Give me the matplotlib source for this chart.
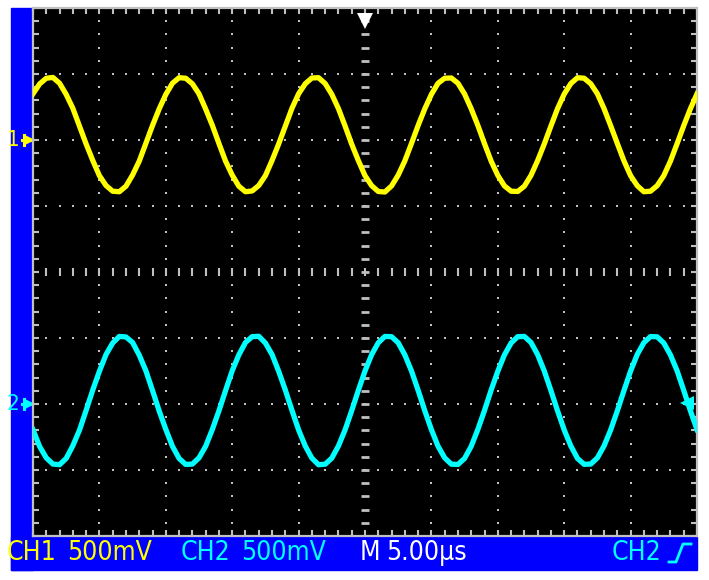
import numpy as np
import matplotlib
matplotlib.use("Agg")
import matplotlib.pyplot as plt
import matplotlib.transforms as mtransforms
from matplotlib.patches import Rectangle
from matplotlib.lines import Line2D

# sample times in microseconds, 0.5 us apart across the 10 divisions (5 us/div)
t_us = np.arange(0, 50.01, 0.5)

# CH1 (yellow), millivolts
ch1_mv = [350, 425, 468, 474, 430, 345, 240, 105, -30, -155, -270, -345, -388, -392, -350, -265, -160, -25, 110, 235,
          345, 430, 472, 468, 426, 350, 235, 112, -26, -160, -266, -350, -392, -386, -345, -270, -155, -30, 105, 240,
          350, 426, 470, 472, 428, 346, 238, 106, -32, -156, -270, -346, -390, -394, -348, -266, -158, -26, 110, 236,
          346, 430, 468, 470, 430, 348, 236, 110, -28, -160, -268, -348, -388, -390, -350, -268, -156, -30, 106, 238,
          348, 428, 472, 468, 426, 350, 238, 108, -26, -158, -270, -346, -392, -388, -346, -270, -160, -28, 108, 236,
          350]

# CH2 (cyan), millivolts
ch2_mv = [-195, -322, -408, -455, -460, -412, -316, -198, -48, 106, 248, 375, 462, 512, 508, 466, 370, 252, 102, -52,
          -192, -320, -412, -458, -455, -408, -320, -194, -52, 102, 252, 372, 466, 510, 513, 462, 375, 248, 106, -48,
          -196, -318, -410, -460, -456, -410, -318, -196, -50, 104, 250, 374, 464, 512, 510, 464, 372, 250, 104, -50,
          -194, -320, -408, -456, -458, -412, -320, -192, -48, 106, 248, 372, 462, 510, 512, 466, 374, 250, 102, -52,
          -196, -318, -412, -457, -455, -408, -318, -196, -52, 102, 250, 375, 465, 511, 509, 462, 372, 252, 104, -50,
          -194]

# scope settings
volts_div_mv = 500
ch1_pos = 2.0      # divisions
ch2_pos = -2.0
trig_time = 25.0   # us
trig_level_mv = 10

status_texts = [("CH1", "#FFFF00", 7), ("500mV", "#FFFF00", 67),
                ("CH2", "#00FFFF", 181), ("500mV", "#00FFFF", 241),
                ("M", "white", 360), ("5.00µs", "white", 386),
                ("CH2", "#00FFFF", 612)]

W, H = 709, 580
def fx(px):
    return px / W
def fy(py):
    return 1 - py / H

FONT = dict(family="DejaVu Sans", fontstretch="condensed")
GRAY = "#C0C0C0"

fig = plt.figure(figsize=(W / 100, H / 100), dpi=100)
fig.patch.set_facecolor("white")

# blue side panel and status bar (behind the axes)
fig.patches.append(Rectangle((fx(11), fy(570)), 22 / W, 562 / H, transform=fig.transFigure,
                             color="#0000FF", zorder=-1))
fig.patches.append(Rectangle((fx(11), fy(570)), 686 / W, 33 / H, transform=fig.transFigure,
                             color="#0000FF", zorder=-1))

ax = fig.add_axes([fx(33), fy(536), 664 / W, 528 / H])
ax.set_facecolor("black")
ax.set_xlim(0, 50)
ax.set_ylim(-4, 4)

# graticule: dots on the division lines, dashes on the centre lines
for xv in np.arange(5, 50, 5):
    if xv == 25:
        continue
    ys = np.arange(-3.8, 4, 0.2)
    ax.plot(np.full(len(ys), xv), ys, ls="none", marker="s", ms=1.6, mew=0, color=GRAY, zorder=1)
for yv in [-3, -2, -1, 1, 2, 3]:
    xs = np.arange(1, 50, 1)
    ax.plot(xs, np.full(len(xs), yv), ls="none", marker="s", ms=1.6, mew=0, color=GRAY, zorder=1)
ys = np.arange(-3.8, 4, 0.2)
ax.plot(np.full(len(ys), 25), ys, ls="none", marker="_", ms=6, mew=2, color=GRAY, zorder=1)
xs = np.arange(1, 50, 1)
ax.plot(xs, np.zeros(len(xs)), ls="none", marker="|", ms=6, mew=1.5, color=GRAY, zorder=1)

# traces
ch1_div = ch1_pos + np.array(ch1_mv) / volts_div_mv
ch2_div = ch2_pos + np.array(ch2_mv) / volts_div_mv
ax.plot(t_us, ch1_div, color="#FFFF00", lw=3.8, zorder=3, solid_joinstyle="round")
ax.plot(t_us, ch2_div, color="#00FFFF", lw=3.8, zorder=3, solid_joinstyle="round")

# border ticks
ax.set_xticks(np.arange(0, 51, 1))
ax.set_yticks(np.arange(-4, 4.01, 0.2))
ax.tick_params(direction="in", length=4, width=1.5, color=GRAY, top=True, right=True,
               labelbottom=False, labelleft=False)
for s in ax.spines.values():
    s.set_color(GRAY)
    s.set_linewidth(1.6)

# trigger position marker (top) and trigger level marker (right)
bt = mtransforms.blended_transform_factory(ax.transData, ax.transAxes)
ax.plot([trig_time, trig_time], [1.0, 0.984], transform=bt, color=GRAY, lw=1.5, clip_on=False, zorder=4)
ax.plot([trig_time], [0.975], transform=bt, marker="v", ms=12, color="white", mew=0, clip_on=False, zorder=5)
bt2 = mtransforms.blended_transform_factory(ax.transAxes, ax.transData)
ax.plot([0.985], [ch2_pos + trig_level_mv / volts_div_mv], transform=bt2, marker="<", ms=10,
        color="#00FFFF", mew=0, clip_on=False, zorder=5)

# channel ground markers in the side panel
for label, pos, col in [("1", ch1_pos, "#FFFF00"), ("2", ch2_pos, "#00FFFF")]:
    ax.text(-0.030, pos, label, transform=bt2, color=col, fontsize=16, ha="center", va="center", **FONT)
    ax.plot([-0.017, -0.004], [pos, pos], transform=bt2, color=col, lw=2.2, clip_on=False)
    ax.plot([-0.013, -0.013], [pos - 0.07, pos + 0.07], transform=bt2, color=col, lw=2.2, clip_on=False)
    ax.plot([-0.006], [pos], transform=bt2, marker=">", ms=8, mew=0, color=col, clip_on=False)

# status bar
for txt, col, px in status_texts:
    fig.text(fx(px), fy(553), txt, color=col, fontsize=19, ha="left", va="center", **FONT)
fig.add_artist(Line2D([fx(669), fx(676), fx(683), fx(691)], [fy(562), fy(562), fy(544), fy(544)],
                      transform=fig.transFigure, color="#00FFFF", lw=2))

fig.savefig("out.png", dpi=100)
